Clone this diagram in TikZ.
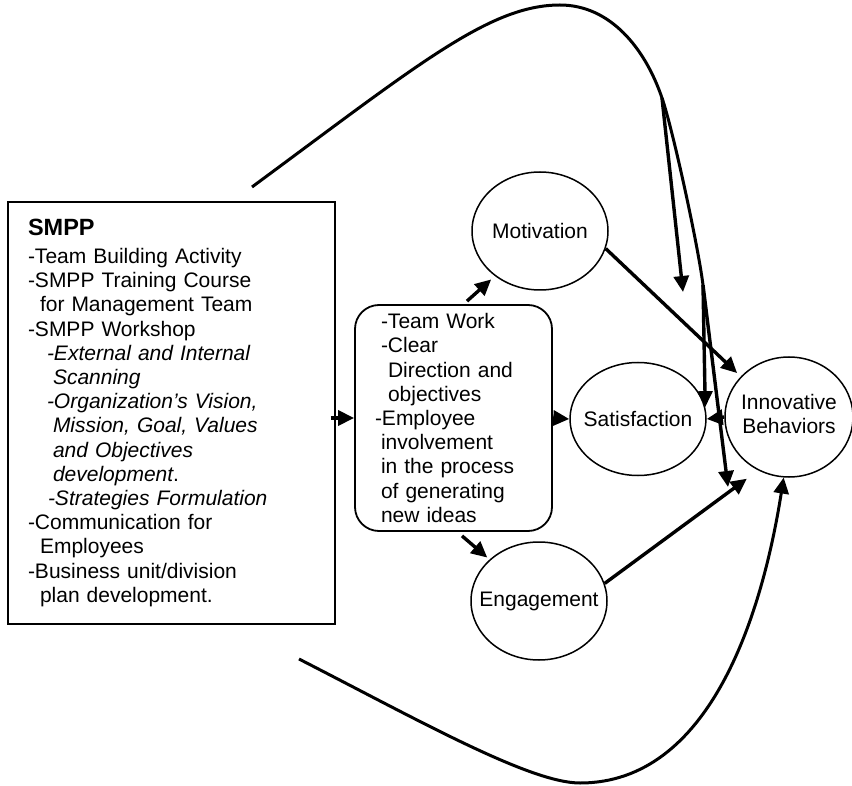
\documentclass[tikz,border=0pt]{standalone}
\usepackage{fontspec}
\setmainfont{Liberation Sans}
\usetikzlibrary{calc}
\usetikzlibrary{shapes.geometric}
\usetikzlibrary{arrows.meta}
\tikzset{
	arr/.style={line width=3.4pt,-{Triangle[length=16pt,width=15pt]}},
	bigcurve/.style={line width=3pt},
	varnode/.style={ellipse,draw,line width=1.5pt,inner sep=0pt,minimum width=136pt,minimum height=118pt},
	listbox/.style={draw,line width=1.8pt,align=left,inner ysep=0pt},
}

\begin{document}
\begin{tikzpicture}[x=1pt,y=-1pt,font=\fontsize{21}{24.2}\selectfont]
	\useasboundingbox (0,0) rectangle (852,786);
	\node[listbox,inner xsep=20pt,text width=287pt,minimum height=422pt] (smpp) at (171.5,413) {%
		{\fontsize{23.5}{27.7}\selectfont\bfseries SMPP}\\[3.5pt]
		-Team Building Activity\\
		-SMPP Training Course\\
		\hspace*{12pt}for Management Team\\
		-SMPP Workshop\\
		\hspace*{19pt}\textit{-External and Internal}\\
		\hspace*{25pt}\textit{Scanning}\\
		\hspace*{19pt}\textit{-Organization’s Vision,}\\
		\hspace*{25pt}\textit{Mission, Goal, Values}\\
		\hspace*{25pt}\textit{and Objectives}\\
		\hspace*{25pt}\textit{development}.\\
		\hspace*{20pt}\textit{-Strategies Formulation}\\
		-Communication for\\
		\hspace*{12pt}Employees\\
		-Business unit/division\\
		\hspace*{12pt}plan development.};
	\node[listbox,rounded corners=24pt,inner xsep=20pt,text width=157pt,minimum height=226pt] (mid) at (453.5,418) {%
		\hspace*{6pt}-Team Work\\
		\hspace*{6pt}-Clear\\
		\hspace*{13pt}Direction and\\
		\hspace*{13pt}objectives\\
		-Employee\\
		\hspace*{6pt}involvement\\
		\hspace*{6pt}in the process\\
		\hspace*{6pt}of generating\\
		\hspace*{6pt}new ideas};
	\node[varnode] (mot) at (540,231) {\makebox[0pt]{Motivation}};
	\node[varnode,minimum height=113pt] (sat) at (638,419) {\makebox[0pt]{Satisfaction}};
	\node[varnode] (eng) at (539,601) {\makebox[0pt]{Engagement}};
	\node[varnode,minimum width=128pt,minimum height=120pt] (inn) at (789,417) {\makebox[0pt]{\begin{tabular}{@{}c@{}}Innovative\\Behaviors\end{tabular}}};
	% free ends of the long paths
	\coordinate (top start) at (252,187);
	\coordinate (split a) at (662,98);
	\coordinate (split b) at (703,285);
	\coordinate (top tip) at (683,292);
	\coordinate (inn low) at (728,487);
	\coordinate (bot start) at (299,659);
	\draw[arr] ($(smpp.east |- mid.west)+(-5,0)$) -- (mid.west);
	\draw[arr] (mid.east) -- (sat.west);
	\draw[arr,shorten >=5pt] ($(mid.north)+(13.5,-3)$) -- (mot.225);
	\draw[arr,shorten >=3pt] ($(mid.south)+(8.5,4)$) -- (eng.140);
	\draw[arr,shorten >=5pt] (mot.-15) -- (inn.140);
	\draw[arr,shorten >=14pt] (eng.15) -- (inn.240);
	\draw[arr] (inn.west) -- (sat.east);
	\draw[bigcurve] (top start) .. controls (420,63) and (490,5) .. (560,5) .. controls (610,5) and (645,48) .. (split a) .. controls (672.5,128) and (698,245) .. (split b);
	\draw[arr] (split a) -- (top tip);
	\draw[arr] (split b) -- (sat.10);
	\draw[arr] (split b) -- (inn low);
	\draw[arr,line width=3pt] (bot start) .. controls (420,721) and (530,783) .. (580,783) .. controls (710,783) and (762,615) .. (inn.265);
\end{tikzpicture}
\end{document}
